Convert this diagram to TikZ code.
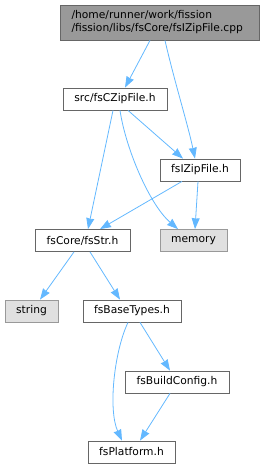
\documentclass[tikz,border=0pt]{standalone}
\usepackage{fontspec}
\setmainfont{DejaVu Sans}
\usetikzlibrary{arrows.meta}
\definecolor{edgecolor}{HTML}{63B8FF}
\definecolor{rootfill}{HTML}{999999}
\definecolor{boxline}{HTML}{666666}
\definecolor{sysfill}{HTML}{E0E0E0}
\definecolor{sysline}{HTML}{999999}

\tikzset{
  filebox/.style={draw=boxline, fill=white, line width=0.8pt, inner sep=0pt,
    minimum height=22pt, font=\fontsize{10.7}{13}\selectfont},
  sysbox/.style={filebox, draw=sysline, fill=sysfill},
  include/.style={edgecolor, line width=0.8pt, -{Stealth[length=11pt, width=8pt, inset=0.5pt]}}
}

\begin{document}
\begin{tikzpicture}[x=1pt, y=-1pt]

  % Page of 265 by 469, one unit per pixel of the reference.
  \useasboundingbox (0,0) rectangle (265,469);

  % The file the graph is drawn for.
  \node[filebox, fill=rootfill, minimum width=199pt, minimum height=35pt,
        align=left, text width=176pt] (root) at (159.5,22.5)
    {/home/runner/work/fission\\/fission/libs/fsCore/fsIZipFile.cpp};

  % Headers it pulls in, level by level.
  \node[filebox, minimum width=104pt] (czip) at (115,99) {src/fsCZipFile.h};
  \node[filebox, minimum width=80pt] (izip) at (200,170) {fsIZipFile.h};
  \node[filebox, minimum width=95pt] (fsstr) at (82.5,240.5) {fsCore/fsStr.h};
  \node[sysbox, minimum width=67pt] (memory) at (193.5,240.5) {memory};
  \node[sysbox, minimum width=53pt] (string) at (31.5,311) {string};
  \node[filebox, minimum width=98pt] (basetypes) at (132,311) {fsBaseTypes.h};
  \node[filebox, minimum width=104pt] (buildcfg) at (177,382) {fsBuildConfig.h};
  \node[filebox, minimum width=87pt] (platform) at (131.5,452) {fsPlatform.h};

  % Include edges.
  \draw[include] ([xshift=-9.5pt]root.south) -- ([xshift=10pt]czip.north);
  \draw[include] ([xshift=5.5pt]root.south) .. controls (174,80) and (188,125) .. ([xshift=-5pt]izip.north);
  \draw[include] ([xshift=13pt]czip.south) -- ([xshift=-17pt]izip.north);
  \draw[include] ([xshift=-2pt]czip.south) -- ([xshift=5.5pt]fsstr.north);
  \draw[include] ([xshift=5pt]czip.south) .. controls (126,150) and (150,205) .. ([xshift=-15.5pt]memory.north);
  \draw[include] ([xshift=-18pt]izip.south) -- ([xshift=17.5pt]fsstr.north);
  \draw[include] ([xshift=-2pt]izip.south) -- ([xshift=1.5pt]memory.north);
  \draw[include] ([xshift=-8.5pt]fsstr.south) -- ([xshift=8.5pt]string.north);
  \draw[include] ([xshift=7.5pt]fsstr.south) -- ([xshift=-12pt]basetypes.north);
  \draw[include] ([xshift=-4pt]basetypes.south) .. controls (114,352) and (108,410) .. ([xshift=-9.5pt]platform.north);
  \draw[include] ([xshift=8pt]basetypes.south) -- ([xshift=-7pt]buildcfg.north);
  \draw[include] ([xshift=-7pt]buildcfg.south) -- ([xshift=8.5pt]platform.north);

\end{tikzpicture}
\end{document}
